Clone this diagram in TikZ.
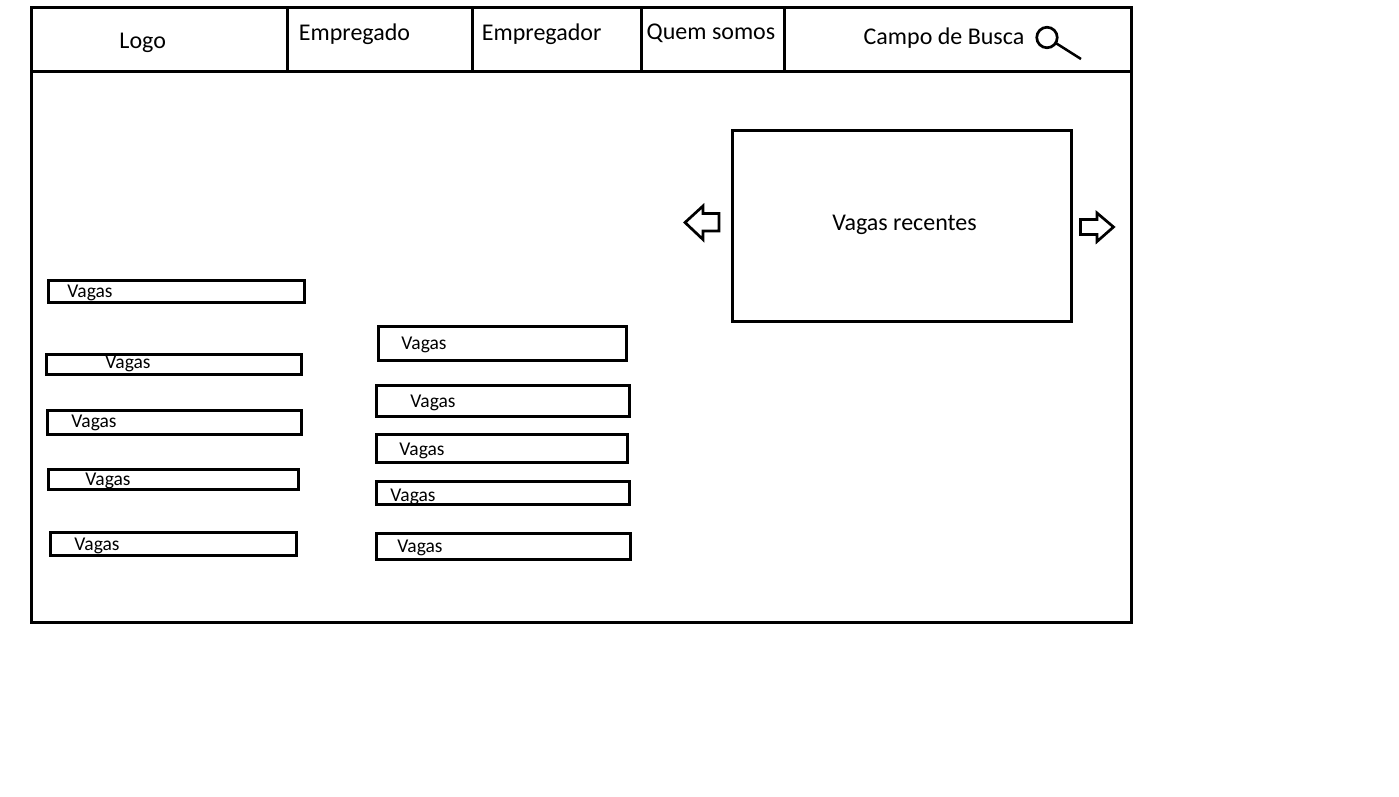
\documentclass[tikz,border=0pt]{standalone}
\usepackage{fontspec}
\setmainfont{Carlito}
\newcommand{\wfcell}[5]{\node[wfrect,minimum width={(#4-#2)*1pt},minimum height={(#5-#3)*1pt}] (#1) at ({(#2+#4)/2},{(#3+#5)/2}) {};}
\newcommand{\wfbox}[5]{\node[wfrect,minimum width={(#4-#2-0.8)*1pt},minimum height={(#5-#3-0.9)*1pt}] (#1) at ({(#2+#4)/2-0.2},{(#3+#5)/2+0.1}) {};}
\tikzset{
  wfrect/.style={draw=black,line width=3pt,inner sep=0pt,outer sep=0pt,rectangle},
  wfline/.style={draw=black,line width=2.7pt,line join=miter},
  big/.style={font=\fontsize{24}{26}\selectfont,inner sep=0pt,text=black},
  small/.style={font=\fontsize{19.5}{22}\selectfont,inner sep=0pt,text=black}
}
\begin{document}
\begin{tikzpicture}[x=1pt,y=-1pt]
\useasboundingbox (0,0) rectangle (1399,797);
% header cells and page body
\wfcell{cellLogo}{31}{7.4}{287.3}{71.3}
\wfcell{cellEmpregado}{287.3}{7.4}{472.3}{71.3}
\wfcell{cellEmpregador}{472.3}{7.4}{641.3}{71.3}
\wfcell{cellQuem}{641.3}{7.4}{784.3}{71.3}
\wfcell{cellBusca}{784.3}{7.4}{1131.5}{71.3}
\wfcell{body}{31}{71.3}{1131.5}{622}
\node[big] (tLogo) at (142.7,42.5) {Logo};
\node[big] (tEmpregado) at (354.5,34) {Empregado};
\node[big] (tEmpregador) at (541.7,34.5) {Empregador};
\node[big] (tQuem) at (711,33) {Quem somos};
\node[big] (tBusca) at (944,38.5) {Campo de Busca};
% search icon
\node[draw=black,line width=2.7pt,circle,inner sep=0pt,outer sep=0pt,minimum size=20.5pt] (lens) at (1047,37.5) {};
\coordinate (handleEnd) at (1081,59);
\draw[wfline,line width=2.5pt] (lens) -- (handleEnd);
% carousel
\wfbox{recent}{732}{130}{1072}{322}
\node[big] (tRecent) at (904.5,224.5) {Vagas recentes};
\draw[wfline] (685,222.5) -- (703,206) -- (703,213.5) -- (719,213.5) -- (719,231) -- (703,231) -- (703,239.5) -- cycle;
\draw[wfline] (1080.5,219.5) -- (1097,219.5) -- (1097,213) -- (1113.5,227) -- (1097,241.5) -- (1097,234.5) -- (1080.5,234.5) -- cycle;
% left list
\wfbox{a1}{48}{280}{305}{303}
\wfbox{a2}{46}{354}{302}{375}
\wfbox{a3}{47}{410}{302}{435}
\wfbox{a4}{48}{469}{299}{490}
\wfbox{a5}{50}{532}{297}{556}
\node[small] (ta1) at (90,292.5) {Vagas};
\node[small] (ta2) at (128,363.5) {Vagas};
\node[small] (ta3) at (94,422.5) {Vagas};
\node[small] (ta4) at (108,480.5) {Vagas};
\node[small] (ta5) at (97,545.5) {Vagas};
% right list
\wfbox{b1}{378}{326}{627}{361}
\wfbox{b2}{376}{385}{630}{417}
\wfbox{b3}{376}{434}{628}{463}
\wfbox{b4}{376}{481}{630}{505}
\wfbox{b5}{376}{533}{631}{560}
\node[small] (tb1) at (424,344.5) {Vagas};
\node[small] (tb2) at (433,402.5) {Vagas};
\node[small] (tb3) at (422,450.5) {Vagas};
\node[small] (tb4) at (413,496.5) {Vagas};
\node[small] (tb5) at (420,547.5) {Vagas};
\end{tikzpicture}
\end{document}
